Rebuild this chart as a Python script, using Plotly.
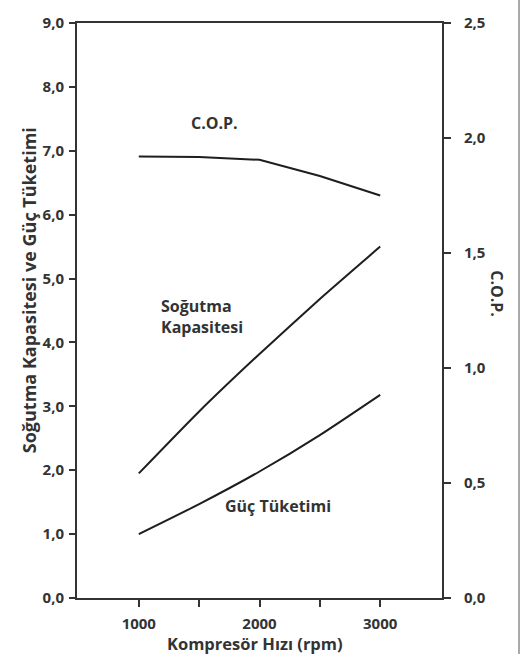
import plotly.graph_objects as go

# Data
speed = [1000, 1500, 2000, 2500, 3000]
cooling_capacity = [1.95, 2.92, 3.82, 4.68, 5.50]
power_consumption = [1.00, 1.47, 1.98, 2.55, 3.18]
cop = [1.92, 1.917, 1.905, 1.835, 1.75]

x_tickvals = [1000, 1500, 2000, 2500, 3000]
x_ticktext = ["1000", "", "2000", "", "3000"]
y_left_vals = [0, 1, 2, 3, 4, 5, 6, 7, 8, 9]
y_left_text = ["0,0", "1,0", "2,0", "3,0", "4,0", "5,0", "6,0", "7,0", "8,0", "9,0"]
y_right_vals = [0, 0.5, 1.0, 1.5, 2.0, 2.5]
y_right_text = ["0,0", "0,5", "1,0", "1,5", "2,0", "2,5"]

DARK = "#333333"
LINE = "#1e1e1e"
FONT = "Open Sans"

L, R, T, B = 77, 442, 17, 598
PW, PH = R - L, B - T


def px(x):
    return (x - L) / PW


def py(y):
    return (B - y) / PH


fig = go.Figure()
fig.add_trace(go.Scatter(x=speed, y=cooling_capacity, mode="lines",
                         line=dict(color=LINE, width=2, shape="spline", smoothing=0.6),
                         showlegend=False, hoverinfo="skip"))
fig.add_trace(go.Scatter(x=speed, y=power_consumption, mode="lines",
                         line=dict(color=LINE, width=2, shape="spline", smoothing=0.6),
                         showlegend=False, hoverinfo="skip"))
fig.add_trace(go.Scatter(x=speed, y=cop, mode="lines", yaxis="y2",
                         line=dict(color=LINE, width=2),
                         showlegend=False, hoverinfo="skip"))

tickfont = dict(family=FONT, size=15, color=DARK, weight="bold")

fig.update_layout(
    width=525, height=654,
    margin=dict(l=L, r=525 - R, t=T, b=654 - B),
    paper_bgcolor="white", plot_bgcolor="white",
    font=dict(family=FONT, color=DARK),
    xaxis=dict(range=[488, 3512], tickvals=x_tickvals, ticktext=x_ticktext,
               ticks="outside", ticklen=7, tickwidth=2, tickcolor=DARK,
               showline=True, linewidth=2, linecolor=DARK, mirror=True,
               showgrid=False, zeroline=False, tickfont=tickfont,
               ticklabelstandoff=4, fixedrange=True),
    yaxis=dict(range=[0, 9], tickvals=y_left_vals, ticktext=y_left_text,
               ticks="outside", ticklen=6, tickwidth=2, tickcolor=DARK,
               showline=True, linewidth=2, linecolor=DARK,
               showgrid=False, zeroline=False, tickfont=tickfont,
               ticklabelstandoff=2, fixedrange=True),
    yaxis2=dict(range=[0, 2.5], tickvals=y_right_vals, ticktext=y_right_text,
                overlaying="y", side="right",
                ticks="outside", ticklen=7, tickwidth=2, tickcolor=DARK,
                showline=True, linewidth=2, linecolor=DARK,
                showgrid=False, zeroline=False, tickfont=tickfont,
                ticklabelstandoff=10, fixedrange=True),
)

ann_font = dict(family=FONT, size=16, color=DARK, weight="bold")


def label(x, y, text, **kw):
    opts = dict(xref="paper", yref="paper", x=px(x), y=py(y), text=text,
                showarrow=False, font=ann_font, xanchor="center", yanchor="middle")
    opts.update(kw)
    fig.add_annotation(**opts)


label(214, 118, "C.O.P.")
label(159, 314, "Soğutma<br>Kapasitesi", xanchor="left", align="left")
label(278, 505, "Güç Tüketimi")

# axis titles
label(255, 644, "Kompresör Hızı (rpm)",
      font=dict(family=FONT, size=16.5, color=DARK, weight="bold"))
label(29, 287, "Soğutma Kapasitesi ve Güç Tüketimi", textangle=-90,
      font=dict(family=FONT, size=18, color=DARK, weight="bold"))
label(497, 290, "C.O.P.", textangle=90)

# outer frame line on the right
fig.add_shape(type="line", xref="paper", yref="paper",
              x0=px(519), x1=px(519), y0=-0.2, y1=1.1,
              line=dict(color="#555555", width=1))

fig.write_html("out.html")
